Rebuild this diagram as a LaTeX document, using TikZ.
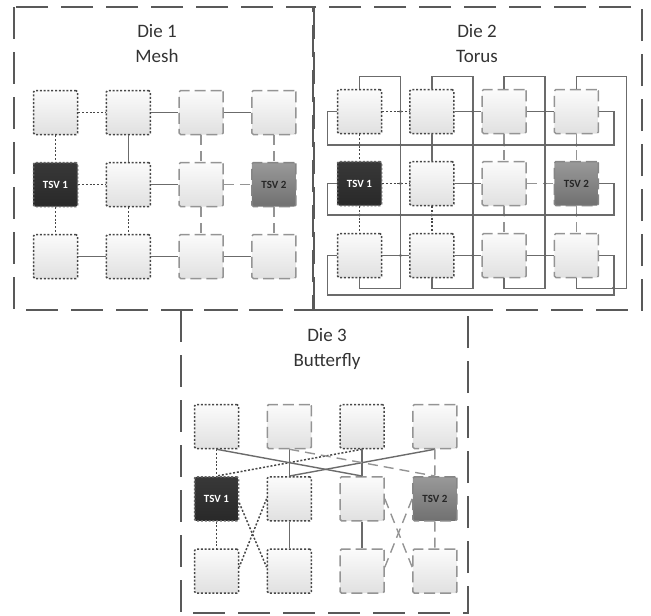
\documentclass[tikz,border=0pt]{standalone}
\usepackage{fontspec}
\setmainfont{Carlito}
\usetikzlibrary{calc}

\begin{document}
\begin{tikzpicture}[x=1pt, y=-1pt,
    router/.style={rectangle, minimum size=44pt, inner sep=0pt, rounded corners=1.5pt,
      line width=1.5pt, top color=gray!3, bottom color=gray!24},
    dotbox/.style={router, draw=black!72, dash pattern=on 2pt off 1.8pt},
    dashbox/.style={router, draw=black!42, dash pattern=on 11pt off 5pt},
    tsvA/.style={router, draw=black!60, dash pattern=on 2pt off 1.8pt,
      top color=black!78, bottom color=black!84, text=white,
      font=\fontsize{11}{12}\selectfont\bfseries},
    tsvB/.style={router, draw=black!48, dash pattern=on 11pt off 5pt,
      top color=black!40, bottom color=black!56, text=black!85,
      font=\fontsize{11}{12}\selectfont\bfseries},
    dietitle/.style={align=center, font=\fontsize{19}{25}\selectfont, text=black!80},
    diebox/.style={draw=black!65, line width=1.6pt, dash pattern=on 32pt off 13pt},
    wire/.style={draw=black!58, line width=1.4pt},
    dotwire/.style={draw=black!72, line width=1.5pt, dash pattern=on 2pt off 1.8pt},
    dashwire/.style={draw=black!42, line width=1.4pt, dash pattern=on 10pt off 6pt},
    hop/.style={fill=black!60}
  ]
  \useasboundingbox (0,0) rectangle (651,616);

  \draw[diebox] (14,7) rectangle (313,310);
  \draw[diebox] (314,7) rectangle (642,310);
  \draw[diebox] (181,310) rectangle (468,613);

  \node[dietitle] (title1) at (157,44) {Die 1\\Mesh};
  \node[dietitle] (title2) at (477,44) {Die 2\\Torus};
  \node[dietitle] (title3) at (327,349) {Die 3\\Butterfly};

  \foreach \d/\xo/\yo/\sp in {m/55.5/112.5/72.8, t/359.5/111.5/72.3}{
    \foreach \r/\c/\s in {1/1/dotbox, 1/2/dotbox, 1/3/dashbox, 1/4/dashbox, 2/2/dotbox,
        2/3/dashbox, 3/1/dotbox, 3/2/dotbox, 3/3/dashbox, 3/4/dashbox}
      \node[\s] (\d\r\c) at ({\xo+\sp*(\c-1)},{\yo+72*(\r-1)}) {};
    \node[tsvA] (\d21) at (\xo,\yo+72) {TSV 1};
    \node[tsvB] (\d24) at ({\xo+3*\sp},\yo+72) {TSV 2};
  }

  \foreach \r/\c/\s in {1/1/dotbox, 1/2/dashbox, 1/3/dotbox, 1/4/dashbox, 2/2/dotbox,
      2/3/dashbox, 3/1/dotbox, 3/2/dotbox, 3/3/dashbox, 3/4/dashbox}
    \node[\s] (b\r\c) at ({216.5+72.8*(\c-1)},{426.5+72.3*(\r-1)}) {};
  \node[tsvA] (b21) at (216.5,498.8) {TSV 1};
  \node[tsvB] (b24) at (434.9,498.8) {TSV 2};

  \foreach \d in {m,t}{
    \foreach \a/\b in {11/12, 21/22, 11/21, 21/31, 22/32}
      \draw[dotwire] (\d\a) -- (\d\b);
    \foreach \a/\b in {12/13, 13/14, 22/23, 31/32, 32/33, 33/34, 12/22}
      \draw[wire] (\d\a) -- (\d\b);
    \foreach \a/\b in {23/24, 13/23, 23/33, 14/24, 24/34}
      \draw[dashwire] (\d\a) -- (\d\b);
  }

  \foreach \r/\dy in {1/33.5, 2/31.5, 3/39.5}
    \draw[wire] (t\r1.west) -| ++(-9,\dy) -| ([xshift=15pt]t\r4.east) -- (t\r4.east);
  \foreach \c/\dx in {1/41, 2/41, 3/41, 4/50}
    \draw[wire] (t1\c.north) |- ++(\dx,-12.5) |- ([yshift=-10.5pt]t3\c.south) -- (t3\c.south);

  \foreach \x in {400.5, 472.8, 545.1}
    \foreach \y in {111.5, 145, 183.5, 215, 255.5}
      \fill[hop] (\x,\y) circle (1.6pt);
  \foreach \x in {359.5, 431.8, 504.1, 576.4}
    \foreach \y in {145, 215}
      \fill[hop] (\x,\y) circle (1.6pt);
  \fill[hop] (613.4,288) circle (1.6pt);

  \draw[dotwire] (b11) -- (b21);
  \draw[dotwire] (b21) -- (b31);
  \draw[dotwire] (b13.south) -- (b21.north);
  \draw[dotwire] (b21.-10) -- (b32.170);
  \draw[dotwire] (b22.west) -- (b31.10);
  \draw[wire] (b11.south) -- (b23.north);
  \draw[wire] (b14.south) -- (b22.north);
  \foreach \a/\b in {12/22, 13/23, 22/32, 23/33}
    \draw[wire] (b\a) -- (b\b);
  \draw[dashwire] (b12.south) -- (b24.north);
  \draw[dashwire] (b14) -- (b24);
  \draw[dashwire] (b24) -- (b34);
  \draw[dashwire] (b23.east) -- (b34.170);
  \draw[dashwire] (b24.west) -- (b33.10);
\end{tikzpicture}
\end{document}
